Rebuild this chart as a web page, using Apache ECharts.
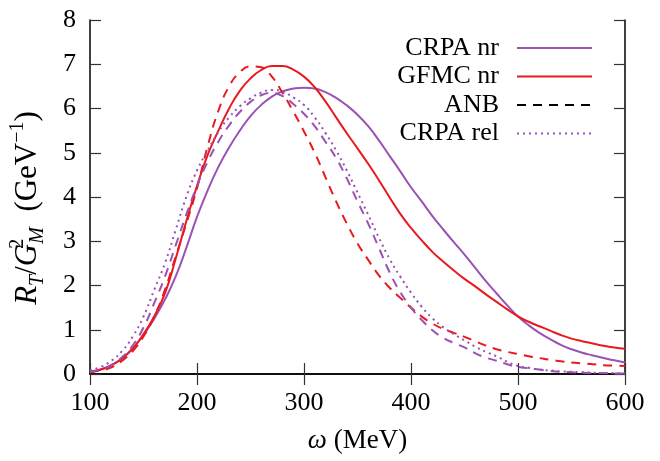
<!DOCTYPE html>
<html>
<head>
<meta charset="utf-8">
<script src="https://cdn.jsdelivr.net/npm/echarts@6/dist/echarts.min.js"></script>
<style>
  html, body { margin: 0; padding: 0; background: #fff; }
  #chart { width: 660px; height: 461px; }
</style>
</head>
<body>
<div id="chart"></div>
<script>
// energy transfer omega (MeV)
const omega = [100, 110, 120, 130, 140, 150, 160, 170, 180, 190,
  200, 210, 220, 230, 240, 250, 260, 270, 280, 290,
  300, 310, 320, 330, 340, 350, 360, 370, 380, 390,
  400, 410, 420, 430, 440, 450, 460, 470, 480, 490,
  500, 510, 520, 530, 540, 550, 560, 570, 580, 590, 600];

// R_T / G_M^2 (GeV^-1)
const crpaNr = [0.05, 0.1, 0.2, 0.35, 0.58, 0.88, 1.25, 1.68, 2.2, 2.85,
  3.55, 4.15, 4.68, 5.12, 5.5, 5.83, 6.08, 6.27, 6.39, 6.45,
  6.47, 6.45, 6.37, 6.24, 6.07, 5.86, 5.6, 5.28, 4.93, 4.58,
  4.22, 3.9, 3.57, 3.27, 2.98, 2.7, 2.4, 2.1, 1.82, 1.55,
  1.3, 1.1, 0.93, 0.79, 0.66, 0.56, 0.48, 0.42, 0.36, 0.31, 0.26];

const gfmcNr = [0.05, 0.1, 0.2, 0.35, 0.58, 0.9, 1.3, 1.82, 2.6, 3.45,
  4.25, 4.95, 5.5, 6.0, 6.4, 6.68, 6.87, 6.96, 6.96, 6.88,
  6.72, 6.48, 6.16, 5.8, 5.44, 5.1, 4.75, 4.38, 3.99, 3.62,
  3.3, 3.02, 2.76, 2.54, 2.34, 2.15, 1.98, 1.8, 1.63, 1.46,
  1.3, 1.18, 1.08, 0.98, 0.88, 0.8, 0.74, 0.69, 0.64, 0.6, 0.57];

const anbGfmc = [0.04, 0.08, 0.15, 0.3, 0.52, 0.85, 1.3, 1.9, 2.65, 3.4,
  4.2, 5.15, 5.95, 6.5, 6.82, 6.95, 6.93, 6.72, 6.35, 5.93,
  5.48, 5.0, 4.45, 3.9, 3.4, 2.95, 2.58, 2.23, 1.95, 1.72,
  1.5, 1.3, 1.14, 1.02, 0.93, 0.84, 0.74, 0.64, 0.56, 0.5,
  0.45, 0.4, 0.36, 0.32, 0.29, 0.26, 0.24, 0.22, 0.2, 0.19, 0.18];

const anbCrpa = [0.05, 0.1, 0.2, 0.38, 0.65, 1.05, 1.6, 2.2, 2.9, 3.6,
  4.25, 4.8, 5.25, 5.62, 5.92, 6.15, 6.3, 6.35, 6.28, 6.1,
  5.88, 5.6, 5.25, 4.88, 4.42, 3.9, 3.4, 2.85, 2.3, 1.85,
  1.5, 1.22, 0.99, 0.82, 0.7, 0.6, 0.47, 0.37, 0.3, 0.22,
  0.16, 0.13, 0.1, 0.07, 0.05, 0.04, 0.03, 0.02, 0.02, 0.01, 0.01];

const crpaRel = [0.08, 0.16, 0.3, 0.52, 0.85, 1.3, 1.9, 2.5, 3.25, 4.0,
  4.6, 5.05, 5.47, 5.8, 6.05, 6.23, 6.36, 6.42, 6.38, 6.25,
  6.08, 5.8, 5.45, 5.05, 4.6, 4.1, 3.6, 3.08, 2.6, 2.2,
  1.84, 1.52, 1.26, 1.06, 0.9, 0.76, 0.62, 0.5, 0.4, 0.28,
  0.18, 0.14, 0.1, 0.08, 0.06, 0.05, 0.04, 0.03, 0.02, 0.02, 0.01];

const xTicks = [100, 200, 300, 400, 500, 600];
const yTicks = [0, 1, 2, 3, 4, 5, 6, 7, 8];

const purple = '#9a52b3';
const red = '#e8191f';
const serif = 'Liberation Serif';

const pairs = (vals) => omega.map((x, i) => [x, vals[i]]);

const chart = echarts.init(document.getElementById('chart'));

const axisCommon = {
  axisLine: { show: true, lineStyle: { color: '#000', width: 1.5 } },
  axisTick: { show: true, inside: true, length: 11, lineStyle: { color: '#333', width: 1.2 } },
  splitLine: { show: false }
};

const mkLine = (name, data, color, type) => ({
  name: name,
  type: 'line',
  data: pairs(data),
  symbol: 'none',
  smooth: true,
  lineStyle: { color: color, width: 2, type: type },
  itemStyle: { color: color }
});

chart.setOption({
  animation: false,
  grid: { left: 88, right: 35, top: 20, bottom: 87 },
  xAxis: [
    Object.assign({
      type: 'value', min: xTicks[0], max: xTicks[xTicks.length - 1], interval: 100,
      position: 'bottom',
      axisLabel: { fontFamily: serif, fontSize: 26, color: '#000', margin: 16 },
      name: '{it|ω} (MeV)',
      nameLocation: 'middle',
      nameGap: 53,
      nameTextStyle: {
        fontFamily: serif, fontSize: 27, color: '#000',
        rich: { it: { fontFamily: serif, fontStyle: 'italic', fontSize: 27, color: '#000' } }
      }
    }, axisCommon),
    Object.assign({
      type: 'value', min: 100, max: 600, interval: 100,
      position: 'top', axisLabel: { show: false }
    }, axisCommon)
  ],
  yAxis: [
    Object.assign({
      type: 'value', min: yTicks[0], max: yTicks[yTicks.length - 1], interval: 1,
      position: 'left',
      axisLabel: { fontFamily: serif, fontSize: 26, color: '#000', margin: 14 },
      name: '{it|R}{sub|T}{n|/}{it|G}{sup|2}{sub|M}{n|\u2002(GeV}{sup2|−1}{n|)}',
      nameLocation: 'middle',
      nameGap: 42,
      nameRotate: 90,
      nameTextStyle: {
        color: '#000',
        padding: [0, 0, 0, -22],
        rich: {
          n: { fontFamily: serif, fontSize: 31, color: '#000', lineHeight: 40, verticalAlign: 'middle' },
          it: { fontFamily: serif, fontStyle: 'italic', fontSize: 31, color: '#000', lineHeight: 40, verticalAlign: 'middle' },
          sub: { fontFamily: serif, fontStyle: 'italic', fontSize: 20, color: '#000', lineHeight: 20, verticalAlign: 'bottom' },
          sup: { fontFamily: serif, fontSize: 20, color: '#000', lineHeight: 20, verticalAlign: 'top', width: 0 },
          sup2: { fontFamily: serif, fontSize: 20, color: '#000', lineHeight: 20, verticalAlign: 'top' }
        }
      }
    }, axisCommon),
    Object.assign({
      type: 'value', min: 0, max: 8, interval: 1,
      position: 'right', axisLabel: { show: false }
    }, axisCommon)
  ],
  legend: {
    orient: 'vertical',
    align: 'right',
    right: 62,
    top: 30,
    itemWidth: 75,
    itemHeight: 14,
    itemGap: 2.5,
    itemStyle: { opacity: 0 },
    textStyle: { fontFamily: serif, fontSize: 26, color: '#000', lineHeight: 26, padding: [0, 13, 0, 0] },
    data: [
      'CRPA nr',
      'GFMC nr',
      { name: 'ANB', itemStyle: { color: '#000', opacity: 0 }, lineStyle: { color: '#000', type: [9, 7] } },
      'CRPA rel'
    ]
  },
  series: [
    mkLine('CRPA nr', crpaNr, purple, 'solid'),
    mkLine('GFMC nr', gfmcNr, red, 'solid'),
    mkLine('ANB', anbGfmc, red, [9, 7]),
    mkLine('ANB', anbCrpa, purple, [9, 7]),
    mkLine('CRPA rel', crpaRel, purple, [2, 4])
  ]
});
</script>
</body>
</html>
